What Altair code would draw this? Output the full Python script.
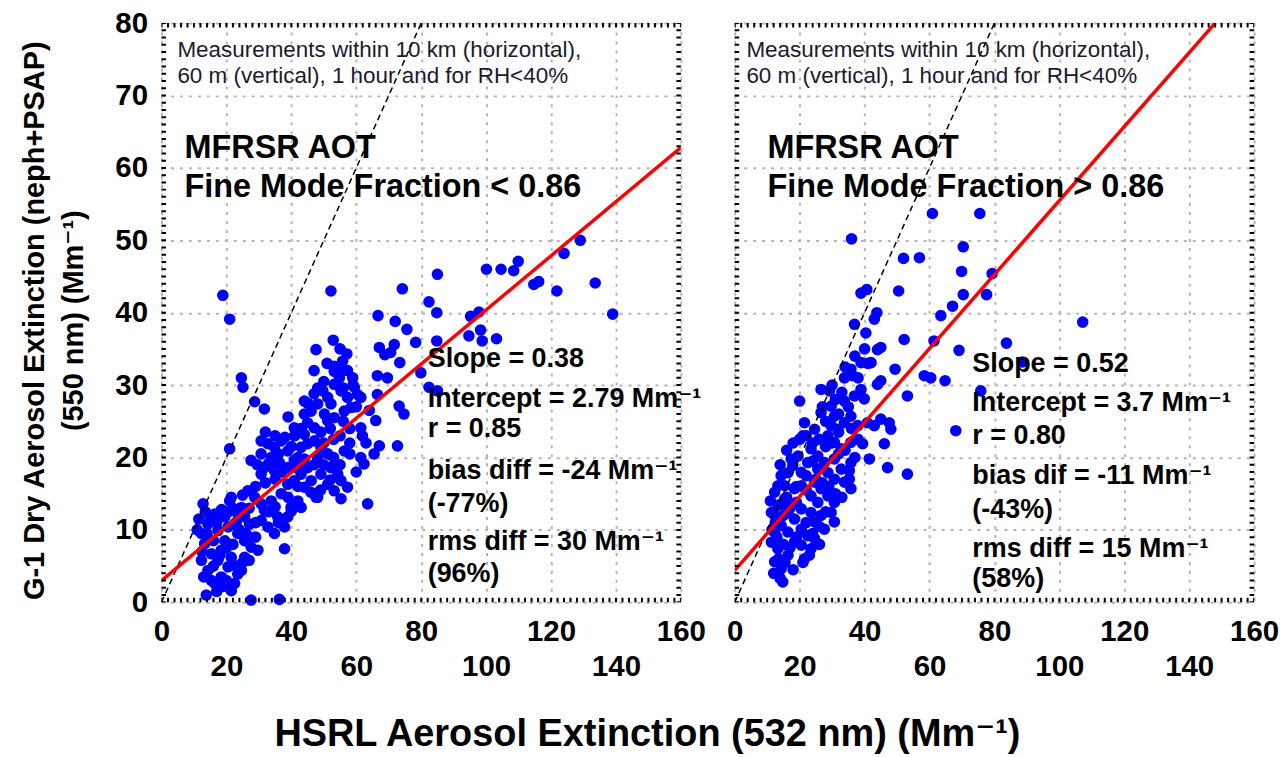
import altair as alt
import pandas as pd

FONT = "Liberation Sans, Arial, DejaVu Sans, sans-serif"

# ---------------- data ----------------
left_x = [18.9, 21.0, 52.2, 74.2, 85.0, 100.1, 104.6, 108.5, 109.9, 114.7, 116.2, 121.8, 124.0, 129.0, 133.6, 139.0,
          82.4, 84.8, 66.7, 72.0, 75.6, 95.2, 97.8, 98.3, 98.8, 94.7, 103.2, 84.8, 78.3, 52.9, 47.6, 57.1,
          67.1, 68.8, 71.7, 70.6, 73.4, 79.9, 53.2, 55.3, 57.3, 58.9, 66.5, 69.6, 82.4, 85.0, 24.6, 25.1,
          28.7, 31.7, 73.2, 74.7, 66.5, 61.4, 49.7, 51.2, 48.1, 46.1, 44.0, 53.2, 54.8, 56.3, 58.4, 57.3,
          60.4, 50.2, 53.2, 51.2, 45.0, 47.1, 49.1, 40.9, 66.0, 61.4, 61.9, 72.7, 67.1, 65.5, 61.4, 62.4,
          56.3, 21.0, 27.6, 48.1, 44.0, 52.2, 55.3, 59.4, 55.8, 53.2,
          30.7, 32.8, 34.8, 36.9, 38.9, 30.7, 33.8, 36.3, 31.7, 30.7, 34.8, 38.9, 40.9, 43.0, 45.0, 47.1,
          49.1, 51.2, 48.1, 45.0, 43.0, 40.9, 46.1, 49.1, 52.2, 54.3, 55.3, 53.2, 55.3, 57.3, 51.2, 48.1,
          44.0, 38.9, 36.9, 33.8, 31.7, 30.7, 32.8, 35.8, 38.9, 37.9, 34.8, 37.9, 39.9, 42.0, 43.0, 26.6,
          28.7, 30.7, 24.6, 21.5, 23.5, 25.6, 27.1, 63.5, 47.6, 21.0,
          12.8, 16.4, 14.3, 12.3, 13.3, 15.4, 17.4, 20.5, 18.4, 15.4, 22.5, 23.5, 21.5, 19.5, 17.4, 20.5,
          23.5, 25.6, 27.6, 29.7, 25.6, 24.6, 12.3, 14.3, 16.4, 21.5, 19.5, 22.5, 18.4, 13.8, 27.6, 36.3,
          32.0, 35.0, 38.0, 41.0, 44.0, 42.0, 40.0, 36.0, 33.0, 29.5, 29.0, 32.0, 35.0, 37.0, 42.0, 44.0,
          47.0, 50.0, 53.0, 55.0, 52.0, 49.0, 46.0, 42.0, 39.0, 35.0, 33.0, 36.0, 40.0, 27.0, 25.0, 29.0,
          23.0, 50.0, 53.0, 55.0, 58.0, 56.0, 58.0, 52.0, 47.0, 45.0, 43.0, 39.0, 59.0, 60.0, 64.0, 63.0,
          58.0, 60.0, 47.0, 51.0, 55.0, 50.0, 56.0,
          11.5, 13.5, 15.0, 17.0, 18.5, 20.5, 22.0, 24.0, 26.0, 27.0, 22.0, 20.0, 16.0, 14.0, 12.5, 16.0,
          18.0, 20.0, 23.0, 25.0, 19.0, 13.0, 17.0, 11.0, 27.0, 29.0]
left_y = [42.4, 39.1, 43.0, 43.3, 45.3, 46.0, 46.0, 45.8, 47.1, 43.9, 44.3, 43.0, 48.2, 50.0, 44.1, 39.8,
          41.5, 40.0, 39.6, 38.8, 37.7, 39.5, 40.1, 37.6, 36.1, 36.8, 36.4, 36.1, 35.9, 36.2, 34.9, 34.3,
          35.2, 34.2, 35.6, 34.5, 33.1, 31.7, 32.6, 32.4, 32.0, 31.0, 31.3, 31.0, 29.7, 29.2, 31.0, 29.7,
          27.7, 26.7, 27.1, 26.0, 28.7, 28.3, 29.2, 28.3, 27.4, 26.4, 26.0, 30.1, 31.0, 26.4, 26.9, 28.3,
          28.7, 26.0, 25.5, 25.1, 24.8, 24.1, 23.5, 24.1, 25.1, 24.1, 23.0, 21.6, 21.6, 20.5, 20.0, 19.1,
          20.9, 21.2, 19.6, 29.6, 27.8, 27.4, 29.2, 29.7, 33.3, 31.9,
          22.3, 21.9, 21.4, 22.3, 20.9, 20.5, 20.0, 19.3, 18.6, 17.7, 18.2, 18.6, 19.6, 21.4, 21.9, 22.3,
          21.4, 20.5, 20.0, 18.6, 17.7, 16.8, 16.8, 17.7, 18.6, 17.7, 16.8, 15.4, 14.3, 15.9, 16.3, 14.5,
          15.9, 16.3, 15.0, 14.0, 12.7, 11.3, 10.4, 11.8, 11.8, 10.4, 9.5, 7.4, 13.1, 14.0, 13.1, 15.4,
          14.5, 13.6, 13.1, 14.5, 12.2, 11.8, 10.8, 13.6, 14.5, 14.0,
          13.6, 12.2, 10.8, 9.5, 8.1, 6.7, 5.8, 4.9, 3.5, 3.0, 2.6, 3.9, 6.2, 8.5, 9.9, 10.4,
          9.5, 8.5, 7.6, 7.2, 6.2, 4.4, 5.8, 4.4, 2.6, 1.6, 11.8, 10.8, 7.2, 1.0, 0.3, 0.4,
          23.5, 23.0, 22.8, 23.0, 23.2, 20.0, 21.5, 20.5, 19.2, 19.0, 16.0, 16.5, 17.0, 18.0, 18.5, 19.8,
          19.0, 19.0, 20.0, 19.0, 16.9, 15.5, 15.2, 16.0, 14.5, 13.2, 12.5, 11.0, 12.6, 13.0, 14.8, 11.0,
          11.0, 22.0, 22.5, 23.0, 24.0, 25.0, 22.0, 24.0, 28.8, 27.5, 24.0, 25.6, 30.0, 27.0, 26.5, 22.0,
          20.5, 18.0, 32.0, 33.0, 35.0, 30.5, 29.6,
          11.5, 12.5, 11.5, 11.0, 12.8, 12.5, 13.0, 10.0, 9.5, 9.0, 8.0, 7.5, 8.5, 9.5, 7.0, 5.0,
          6.5, 3.0, 5.0, 5.5, 2.2, 3.5, 1.5, 10.0, 5.8, 9.0]

right_x = [60.9, 75.5, 36.0, 70.4, 52.0, 56.9, 69.9, 79.3, 38.9, 40.7, 50.5, 70.4, 77.6, 43.8, 43.0, 67.1,
           63.5, 36.9, 40.4, 107.2, 52.2, 61.4, 83.7, 69.1, 44.0, 45.0, 88.6, 49.4, 38.9, 42.0, 35.8, 33.8,
           36.3, 58.4, 60.4, 64.8, 44.0, 45.0, 38.9, 36.9, 39.9, 53.2, 75.8, 26.6, 29.2, 20.0, 33.8, 29.7,
           30.7, 29.7, 28.7, 31.7, 33.8, 35.8, 37.9, 40.9, 45.0, 47.6, 48.1, 46.1, 43.0, 68.1, 21.0, 39.4,
           41.5, 47.1, 53.2, 35.3, 35.3, 19.5, 17.4, 16.4, 14.3, 17.9, 23.5, 25.6, 27.6, 30.7, 32.8, 33.8,
           35.8, 30.7, 28.7, 25.6, 22.5, 20.5, 13.3, 12.3, 13.3, 11.3, 15.4, 18.4, 20.5, 23.5, 26.6, 28.7,
           30.7, 29.7, 26.6, 24.6, 27.6, 30.7, 22.5, 20.5, 18.4, 16.4, 14.3, 12.3, 11.3, 13.3, 12.3, 14.3,
           16.4, 20.5, 23.5, 21.5, 26.1, 24.6, 14.0, 24.6, 26.6, 21.5, 35.8, 30.7, 32.8, 35.8, 24.6, 17.4,
           20.5, 23.5, 25.6, 15.4, 16.4, 18.4, 12.3,
           14.0, 16.0, 18.0, 20.0, 22.0, 24.0, 26.0, 28.0, 30.0, 32.0, 28.0, 27.0, 31.0, 32.0, 33.0, 35.0,
           24.0, 22.0, 19.0, 16.0, 14.0, 12.5, 15.0, 17.0, 19.0, 22.0, 25.0, 27.0, 29.0, 31.0, 33.0, 32.0,
           34.0, 37.0, 38.0, 36.0, 28.0, 26.0, 24.0, 22.0, 19.0, 17.0, 15.0, 13.0, 11.5, 13.5, 15.5, 18.0,
           14.8, 12.0, 21.0, 23.0, 11.0, 30.0, 34.0, 37.0, 40.0, 41.0, 38.0]
right_y = [53.7, 53.7, 50.2, 49.1, 47.5, 47.6, 45.7, 45.4, 42.7, 43.2, 43.0, 42.5, 42.5, 40.0, 39.1, 40.9,
           39.6, 38.4, 37.2, 38.7, 36.3, 36.1, 35.8, 34.8, 34.9, 35.2, 33.2, 32.2, 33.1, 33.1, 32.2, 31.0,
           31.3, 31.3, 31.0, 30.6, 30.1, 30.6, 29.4, 28.5, 28.1, 28.5, 29.2, 29.4, 29.2, 27.8, 27.8, 27.1,
           25.7, 24.4, 23.0, 23.9, 24.8, 25.7, 24.4, 24.8, 25.3, 24.8, 23.9, 21.9, 24.4, 23.7, 23.0, 21.9,
           19.8, 18.6, 17.7, 18.2, 17.0, 20.2, 19.8, 17.9, 17.5, 18.9, 21.2, 20.2, 19.3, 19.8, 18.4, 16.6,
           15.7, 17.0, 17.9, 18.4, 19.3, 17.95, 16.1, 15.2, 13.4, 12.4, 14.3, 15.7, 16.1, 14.7, 15.7, 14.7,
           13.8, 12.4, 12.0, 11.1, 10.1, 11.1, 9.2, 10.1, 11.5, 12.4, 10.6, 9.7, 8.3, 7.4, 5.6, 4.6,
           6.5, 7.9, 7.4, 6.0, 8.0, 8.8, 3.3, 23.9, 26.2, 24.8, 22.1, 22.1, 21.2, 19.3, 16.6, 13.4,
           12.9, 12.4, 13.8, 16.1, 9.7, 8.3, 12.0,
           19.0, 21.0, 22.0, 22.5, 23.0, 22.0, 22.5, 21.5, 22.0, 23.5, 25.0, 27.0, 28.0, 26.0, 29.0, 27.0,
           19.5, 17.5, 16.0, 14.5, 13.5, 11.0, 12.0, 13.0, 13.8, 15.5, 17.0, 16.5, 16.0, 15.0, 14.5, 20.5,
           21.0, 20.0, 22.5, 24.0, 12.5, 10.5, 9.5, 11.0, 9.0, 7.5, 8.0, 9.0, 10.0, 6.0, 5.5, 4.5,
           2.8, 4.0, 5.5, 6.5, 14.0, 30.0, 32.5, 34.0, 35.0, 33.0, 31.0]

# fitted lines and 1:1 line (end points)
fit_left_x, fit_left_y = [0, 160], [3.0, 62.8]
fit_right_x, fit_right_y = [0, 148], [4.4, 80.0]
one_x, one_y = [0, 80], [0, 80]

# axes
x_major = [0, 20, 40, 60, 80, 100, 120, 140, 160]
y_major = [0, 10, 20, 30, 40, 50, 60, 70, 80]
x_minor = list(range(0, 161, 2))
y_minor = list(range(0, 81, 1))

# texts
note_lines = ["Measurements within 10 km (horizontal),", "60 m (vertical), 1 hour and for RH<40%"]
note_y = [76.3, 72.7]
left_heading = ["MFRSR AOT", "Fine Mode Fraction < 0.86"]
right_heading = ["MFRSR AOT", "Fine Mode Fraction > 0.86"]
heading_y = [62.7, 57.3]
left_stats = ["Slope = 0.38", "Intercept = 2.79 Mm\u207b\u00b9", "r = 0.85", "bias diff = -24  Mm\u207b\u00b9",
              "(-77%)", "rms diff = 30  Mm\u207b\u00b9", "(96%)"]
left_stats_y = [33.6, 28.1, 24.0, 18.2, 13.6, 8.3, 3.9]
right_stats = ["Slope = 0.52", "Intercept = 3.7 Mm\u207b\u00b9", "r = 0.80", "bias dif = -11  Mm\u207b\u00b9",
               "(-43%)", "rms diff = 15  Mm\u207b\u00b9", "(58%)"]
right_stats_y = [32.9, 27.5, 23.0, 17.5, 12.8, 7.4, 3.2]

y_title = ["G-1 Dry Aerosol Extinction (neph+PSAP)", "(550 nm) (Mm\u207b\u00b9)"]
x_title = "HSRL Aerosol Extinction (532 nm) (Mm\u207b\u00b9)"

# ---------------- chart ----------------
W, H = 521, 581
GRID = dict(grid=True, gridColor="#b5b5b5", gridDash=[3, 6], gridWidth=2)


def xenc():
    return alt.X("x:Q", scale=alt.Scale(domain=[0, 160], nice=False, zero=False),
                 axis=alt.Axis(values=x_major, title=None, domain=False, ticks=False,
                               labelFont=FONT, labelFontSize=29.5, labelFontWeight="bold", labelColor="black",
                               labelPadding=15, labelLineHeight=35, labelFlush=False, labelOverlap=False,
                               labelExpr="datum.value % 40 == 0 ? datum.label : ['', datum.label]",
                               **GRID))


def yenc(first):
    if first:
        ax = alt.Axis(values=y_major, title=y_title, domain=False, ticks=False,
                      labelFont=FONT, labelFontSize=29.5, labelFontWeight="bold", labelColor="black",
                      labelPadding=14, labelFlush=False, labelOverlap=False,
                      titleFont=FONT, titleFontSize=29, titleFontWeight="bold", titleColor="black",
                      titleLineHeight=40, titlePadding=26, titleY=298, **GRID)
    else:
        ax = alt.Axis(values=y_major, title=None, domain=False, ticks=False, labels=False, **GRID)
    return alt.Y("y:Q", scale=alt.Scale(domain=[0, 80], nice=False, zero=False), axis=ax)


def panel(px, py, fx, fy, heading, stats, stats_y, note_x, head_x, stats_x, first):
    X, Y = xenc(), yenc(first)
    pts = alt.Chart(pd.DataFrame({"x": px, "y": py})).mark_circle(
        size=135, color="#0000ff", opacity=1).encode(x=X, y=Y)
    one = alt.Chart(pd.DataFrame({"x": one_x, "y": one_y})).mark_line(
        color="black", strokeDash=[6, 4], strokeWidth=1.5, clip=True).encode(x=X, y=Y)
    fit = alt.Chart(pd.DataFrame({"x": fx, "y": fy})).mark_line(
        color="#ff0000", strokeWidth=3.5, clip=True).encode(x=X, y=Y)
    xt = pd.DataFrame({"x": x_minor * 2, "y": [0] * len(x_minor) + [80] * len(x_minor)})
    yt = pd.DataFrame({"x": [0] * len(y_minor) + [160] * len(y_minor), "y": y_minor * 2})
    xticks = alt.Chart(xt).mark_tick(orient="vertical", size=9, thickness=2, color="black",
                                     opacity=1, clip=True).encode(x=X, y=Y)
    yticks = alt.Chart(yt).mark_tick(orient="horizontal", size=9, thickness=2, color="black",
                                     opacity=1, clip=True).encode(x=X, y=Y)
    note = alt.Chart(pd.DataFrame({"x": [note_x] * 2, "y": note_y, "t": note_lines})).mark_text(
        align="left", baseline="middle", font=FONT, fontSize=22.5, color="#1a1a2e").encode(x=X, y=Y, text="t:N")
    head = alt.Chart(pd.DataFrame({"x": [head_x] * 2, "y": heading_y, "t": heading})).mark_text(
        align="left", baseline="middle", font=FONT, fontSize=32.5, fontWeight="bold", color="black").encode(
        x=X, y=Y, text="t:N")
    st = alt.Chart(pd.DataFrame({"x": [stats_x] * len(stats), "y": stats_y, "t": stats})).mark_text(
        align="left", baseline="middle", font=FONT, fontSize=27, fontWeight="bold", color="black").encode(
        x=X, y=Y, text="t:N")
    return alt.layer(pts, one, fit, xticks, yticks, note, head, st).properties(width=W, height=H)


left = panel(left_x, left_y, fit_left_x, fit_left_y, left_heading, left_stats, left_stats_y,
             4.9, 7.1, 82.0, True)
right = panel(right_x, right_y, fit_right_x, fit_right_y, right_heading, right_stats, right_stats_y,
              3.6, 10.1, 73.2, False)

chart = alt.hconcat(left, right, spacing=54, bounds="flush").properties(
    title=alt.TitleParams(x_title, orient="bottom", anchor="middle", font=FONT, fontSize=38,
                          fontWeight="bold", color="black", offset=35, dx=-2),
    padding={"left": 19, "top": 6, "right": 5, "bottom": 0},
).configure_view(stroke="black", strokeWidth=3).configure(background="white")

chart.save("out.html", embed_options={"renderer": "svg", "actions": False})
